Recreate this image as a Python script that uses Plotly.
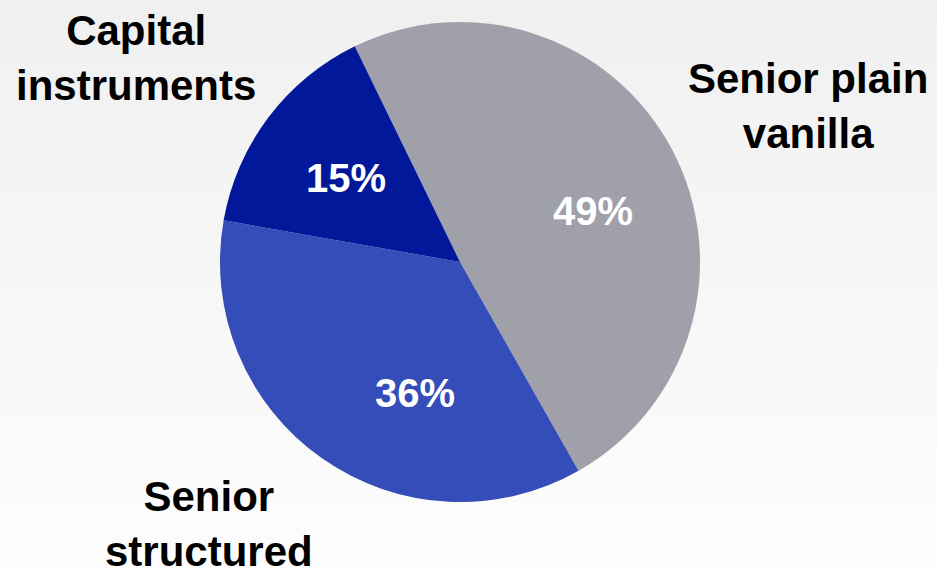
import plotly.graph_objects as go

# Portfolio split by instrument type
categories = ["Senior plain vanilla", "Senior structured", "Capital instruments"]
shares = [49, 36, 15]
colors = ["#A0A0AA", "#344DB8", "#001899"]

# Outer category captions (two lines each)
captions = ["Senior plain<br>vanilla", "Senior<br>structured", "Capital<br>instruments"]

W, H = 937, 569
FONT = "Liberation Sans, Arial, sans-serif"
fig = go.Figure()

fig.add_trace(go.Pie(
    labels=categories,
    values=shares,
    sort=False,
    direction="clockwise",
    rotation=-26,
    marker=dict(colors=colors, line=dict(width=0)),
    textinfo="none",
    showlegend=False,
    hoverinfo="label+percent",
    domain=dict(x=[(460 - 240) / W, (460 + 240) / W], y=[1 - (262 + 240) / H, 1 - (262 - 240) / H]),
))

# Soft vertical background gradient (light grey at top to near white at bottom)
n_bands = 60
shapes = []
for i in range(n_bands):
    t = i / (n_bands - 1)
    g = round(240 + (253 - 240) * t)
    shapes.append(dict(
        type="rect", xref="paper", yref="paper",
        x0=0, x1=1, y0=1 - (i + 1) / n_bands, y1=1 - i / n_bands + 0.001,
        fillcolor=f"rgb({g},{g},{g})", line=dict(width=0), layer="below",
    ))

annotations = []

# Category captions around the pie
caption_pos = [(808, 106), (209, 524), (136, 58)]
for txt, (px, py) in zip(captions, caption_pos):
    annotations.append(dict(
        text=f"<b>{txt}</b>", x=px / W, y=1 - py / H, xref="paper", yref="paper",
        showarrow=False, xanchor="center", yanchor="middle",
        font=dict(family=FONT, size=42, color="black"),
    ))

# Percentage labels inside the slices
value_pos = [(593, 211), (415, 393), (346, 178)]
for v, (px, py) in zip(shares, value_pos):
    annotations.append(dict(
        text=f"<b>{v}%</b>", x=px / W, y=1 - py / H, xref="paper", yref="paper",
        showarrow=False, xanchor="center", yanchor="middle",
        font=dict(family=FONT, size=40, color="white"),
    ))

fig.update_layout(
    width=W, height=H,
    margin=dict(l=0, r=0, t=0, b=0),
    paper_bgcolor="#F4F4F4",
    plot_bgcolor="rgba(0,0,0,0)",
    shapes=shapes,
    annotations=annotations,
)

fig.write_html("out.html")
